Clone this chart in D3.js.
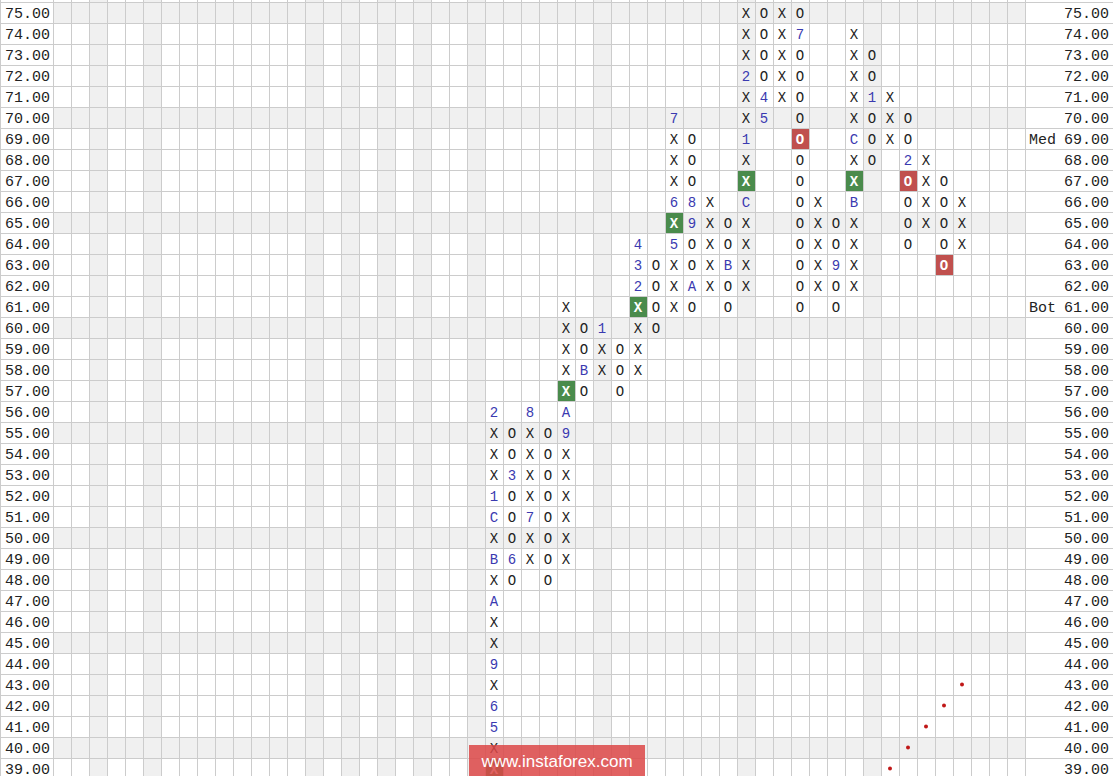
<!DOCTYPE html>
<html>
<head>
<meta charset="utf-8">
<script src="https://cdn.jsdelivr.net/npm/d3@7"></script>
<style>
  html, body { margin: 0; padding: 0; background: #fff; overflow: hidden; }
  svg { display: block; }
</style>
</head>
<body>
<svg id="chart" width="1113" height="776"></svg>
<script>
// ---------- DATA ----------
// price levels (box size 1.00)
const priceLevels = d3.range(39, 76);          // 39 .. 75
const shadedColumns = [2, 5, 14, 16, 18, 20, 23, 30, 38, 45];
const shadedRows = [40, 45, 50, 55, 60, 65, 70, 75];

// point & figure columns
const columnIndex = [24, 25, 26, 27, 28, 29, 30, 31, 32, 33, 34, 35, 36, 37, 38, 39, 40, 41, 42, 43, 44, 45, 46, 47, 48, 49, 50];
const columnType  = ['X','O','X','O','X','O','X','O','X','O','X','O','X','O','X','O','X','O','X','O','X','O','X','O','X','O','X'];
const columnLow   = [39, 48, 49, 48, 49, 57, 58, 57, 58, 60, 61, 61, 62, 61, 62, 70, 71, 61, 62, 61, 62, 68, 69, 64, 65, 63, 64];
const columnHigh  = [56, 55, 56, 55, 61, 60, 60, 59, 64, 63, 70, 69, 66, 65, 75, 75, 75, 75, 66, 65, 74, 73, 71, 70, 68, 67, 66];

// month markers replacing a box
const markColumn = [24, 24, 24, 24, 24, 24, 24, 24, 25, 25, 26, 26, 28, 28, 29, 30, 32, 32, 32, 34, 34, 34, 35, 35, 35, 37, 38, 38, 38, 39, 39, 41, 43, 44, 44, 45, 47];
const markPrice  = [56, 52, 51, 49, 47, 44, 42, 41, 53, 49, 56, 51, 56, 55, 58, 60, 62, 63, 64, 70, 66, 64, 66, 65, 62, 63, 72, 69, 66, 71, 70, 74, 63, 69, 66, 71, 68];
const markText   = ['2','1','C','B','A','9','6','5','3','6','8','7','A','9','B','1','2','3','4','7','6','5','8','9','A','B','2','1','C','4','5','7','9','C','B','1','2'];

// signal boxes
const buyColumn  = [24, 28, 32, 34, 38, 44];
const buyPrice   = [39, 57, 61, 65, 67, 67];
const sellColumn = [41, 47, 49];
const sellPrice  = [69, 67, 63];

// trend line dots
const trendColumn = [46, 47, 48, 49, 50];
const trendPrice  = [39, 40, 41, 42, 43];

// side labels
const sideLabelText  = ['Med', 'Bot'];
const sideLabelPrice = [69, 61];

// ---------- LAYOUT ----------
const W = 1113, H = 776;
const nCols = 54;
const gridLeft = 53, colW = 18;
const gridRight = gridLeft + nCols * colW;      // 1025
const rowH = 21, topLine = 2;

const svg = d3.select('#chart');
const x = d3.scaleLinear().domain([0, nCols]).range([gridLeft, gridRight]);
const y = d3.scaleLinear().domain([75, 39]).range([topLine + rowH / 2, topLine + rowH / 2 + 36 * rowH]);
const rowTop = v => y(v) - rowH / 2;
const cx = c => x(c + 0.5);

const mono = '"Courier New", "Liberation Mono", monospace';

// shaded rows / columns
svg.append('g').selectAll('rect').data(shadedColumns).join('rect')
  .attr('x', d => x(d)).attr('y', 0).attr('width', colW).attr('height', H)
  .attr('fill', '#f0f0f0');
svg.append('g').selectAll('rect').data(shadedRows).join('rect')
  .attr('x', gridLeft).attr('y', d => rowTop(d)).attr('width', gridRight - gridLeft).attr('height', rowH)
  .attr('fill', '#f0f0f0');

// grid lines
const gridG = svg.append('g').attr('stroke', '#cccccc').attr('stroke-width', 1).attr('shape-rendering', 'crispEdges');
gridG.selectAll('line.v').data(d3.range(0, nCols + 1)).join('line')
  .attr('class', 'v')
  .attr('x1', d => Math.round(x(d)) + 0.5).attr('x2', d => Math.round(x(d)) + 0.5)
  .attr('y1', 0).attr('y2', H);
gridG.append('line').attr('x1', 0.5).attr('x2', 0.5).attr('y1', 0).attr('y2', H);
const hLevels = d3.range(38, 77);
gridG.selectAll('line.h').data(hLevels).join('line')
  .attr('class', 'h')
  .attr('x1', 0).attr('x2', W)
  .attr('y1', d => Math.round(rowTop(d)) + 0.5).attr('y2', d => Math.round(rowTop(d)) + 0.5);

// price labels left & right
const fmt = d3.format('.2f');
svg.append('g').selectAll('text').data(priceLevels).join('text')
  .attr('x', 50).attr('y', d => y(d)).attr('dy', '0.35em')
  .attr('text-anchor', 'end').attr('font-family', mono).attr('font-size', 15).attr('fill', '#222')
  .text(d => fmt(d));
svg.append('g').selectAll('text').data(priceLevels).join('text')
  .attr('x', 1109).attr('y', d => y(d)).attr('dy', '0.35em')
  .attr('text-anchor', 'end').attr('font-family', mono).attr('font-size', 15).attr('fill', '#222')
  .text(d => fmt(d));

// side labels
svg.append('g').selectAll('text').data(sideLabelText).join('text')
  .attr('x', 1056).attr('y', (d, i) => y(sideLabelPrice[i])).attr('dy', '0.35em')
  .attr('text-anchor', 'end').attr('font-family', mono).attr('font-size', 15).attr('fill', '#222')
  .text(d => d);

// build cells
const marks = new Map();
markColumn.forEach((c, i) => marks.set(c + '_' + markPrice[i], markText[i]));
const buys = new Set(buyColumn.map((c, i) => c + '_' + buyPrice[i]));
const sells = new Set(sellColumn.map((c, i) => c + '_' + sellPrice[i]));

const cells = [];
columnIndex.forEach((c, i) => {
  for (let v = columnLow[i]; v <= columnHigh[i]; v++) {
    const key = c + '_' + v;
    cells.push({
      col: c, price: v, type: columnType[i],
      mark: marks.get(key),
      buy: buys.has(key), sell: sells.has(key)
    });
  }
});

// boxes
svg.append('g').selectAll('rect').data(cells.filter(d => d.buy || d.sell)).join('rect')
  .attr('x', d => Math.round(x(d.col)) + 1).attr('y', d => Math.round(rowTop(d.price)) + 1)
  .attr('width', colW - 1).attr('height', rowH - 1)
  .attr('fill', d => d.buy ? '#4a8b4c' : '#c0504e');

// glyphs
svg.append('g').selectAll('text').data(cells).join('text')
  .attr('x', d => cx(d.col)).attr('y', d => y(d.price)).attr('dy', '0.36em')
  .attr('text-anchor', 'middle').attr('font-family', mono).attr('font-size', 14)
  .attr('font-weight', d => (d.buy || d.sell) ? 'bold' : 'normal')
  .attr('fill', d => (d.buy || d.sell) ? '#ffffff' : (d.mark ? '#3a3ab0' : '#222222'))
  .text(d => (d.buy || d.sell) ? d.type : (d.mark || d.type));

// trend dots
svg.append('g').selectAll('circle').data(trendColumn).join('circle')
  .attr('cx', d => cx(d)).attr('cy', (d, i) => y(trendPrice[i]))
  .attr('r', 2).attr('fill', '#c01818');

// watermark
const wm = svg.append('g');
wm.append('rect').attr('x', 469).attr('y', 745).attr('width', 176).attr('height', 31)
  .attr('fill', 'rgb(220,70,70)').attr('opacity', 0.85);
wm.append('text').attr('x', 557).attr('y', 767).attr('text-anchor', 'middle')
  .attr('font-family', 'Arial, "Liberation Sans", sans-serif').attr('font-size', 17)
  .attr('fill', '#ffffff').text('www.instaforex.com');
</script>
</body>
</html>
